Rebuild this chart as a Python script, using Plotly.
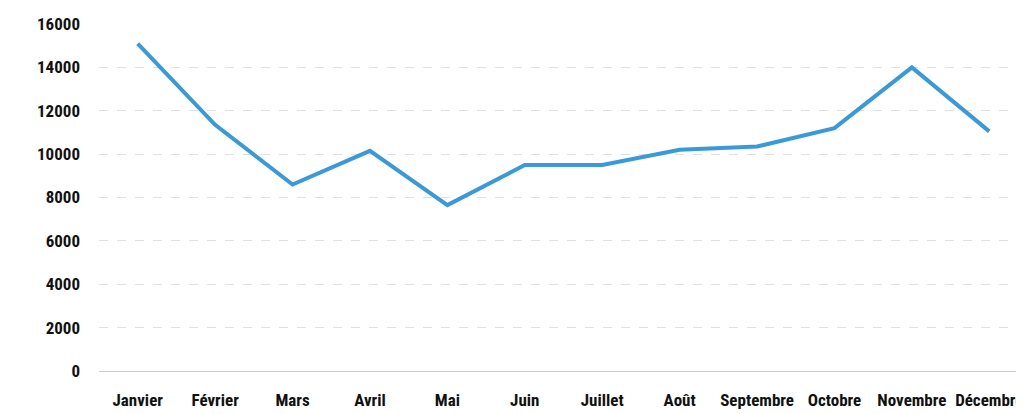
import plotly.graph_objects as go

months = ["Janvier", "Février", "Mars", "Avril", "Mai", "Juin", "Juillet",
          "Août", "Septembre", "Octobre", "Novembre", "Décembre"]
values = [15100, 11350, 8600, 10150, 7650, 9500, 9500, 10200, 10350, 11200, 14000, 11050]
y_ticks = [0, 2000, 4000, 6000, 8000, 10000, 12000, 14000, 16000]

font_family = "Liberation Sans Narrow, Roboto Condensed, Arial Narrow, sans-serif"
label_font = dict(family=font_family, size=17, color="#111111", weight="bold")

fig = go.Figure()
fig.add_trace(go.Scatter(x=months, y=values, mode="lines",
                         line=dict(color="#3a9ad9", width=4), hoverinfo="x+y"))

fig.update_layout(
    width=1024, height=414,
    margin=dict(l=91, r=4, t=16, b=51),
    plot_bgcolor="white", paper_bgcolor="white",
    showlegend=False,
    font=label_font,
)
fig.update_xaxes(range=[-0.5, 11.5], showgrid=False, showline=True,
                 linecolor="#cccccc", linewidth=1, ticks="",
                 ticklabelstandoff=14, tickfont=label_font)
fig.update_yaxes(range=[0, 16000], tickvals=y_ticks, tickformat="d", showgrid=True,
                 gridcolor="#e0e0e0", griddash="dash", zeroline=False,
                 ticks="", ticklabelstandoff=18, tickfont=label_font)
fig.add_annotation(text="© 2017 Kaspersky Lab. Tous droits réservés.",
                   xref="paper", yref="paper", x=1, y=-0.155, showarrow=False,
                   xanchor="right", yanchor="bottom",
                   font=dict(family="Arial, sans-serif", size=8, color="#888888"))

fig.write_html("out.html")
